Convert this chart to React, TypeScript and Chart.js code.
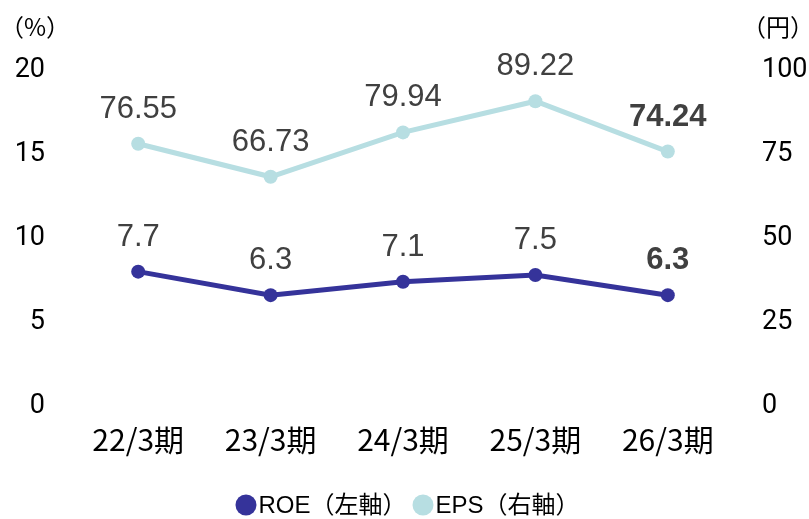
import React, { useEffect, useRef } from 'react';
import { Chart, registerables } from 'chart.js';

Chart.register(...registerables);

const categories = ['22/3期', '23/3期', '24/3期', '25/3期', '26/3期'];
const roeValues = [7.7, 6.3, 7.1, 7.5, 6.3];
const epsValues = [76.55, 66.73, 79.94, 89.22, 74.24];
const roeTicks = [0, 5, 10, 15, 20];
const epsTicks = [0, 25, 50, 75, 100];
const roeLabel = 'ROE（左軸）';
const epsLabel = 'EPS（右軸）';
const leftTitle = '（%）';
const rightTitle = '（円）';

const ROE_COLOR = '#35339a';
const EPS_COLOR = '#b7dee2';
const LABEL_COLOR = '#404040';
const NUM_FONT = "'Liberation Sans', Arial, 'Noto Sans CJK JP', sans-serif";
const CJK_FONT = "'Noto Sans CJK JP', sans-serif";

const decimals = [1, 2];

const overlayPlugin = {
  id: 'overlay',
  afterDatasetsDraw(chart: any) {
    const ctx = chart.ctx;
    ctx.save();
    // data labels
    chart.data.datasets.forEach((ds: any, di: number) => {
      const meta = chart.getDatasetMeta(di);
      meta.data.forEach((pt: any, i: number) => {
        const last = i === meta.data.length - 1;
        ctx.font = `${last ? 'bold ' : ''}31px ${NUM_FONT}`;
        ctx.fillStyle = LABEL_COLOR;
        ctx.textAlign = 'center';
        ctx.textBaseline = 'alphabetic';
        ctx.fillText(Number(ds.data[i]).toFixed(decimals[di]), pt.x, pt.y - 26);
      });
    });
    // axis titles
    ctx.font = `24px ${CJK_FONT}`;
    ctx.fillStyle = '#000';
    ctx.textAlign = 'center';
    ctx.textBaseline = 'middle';
    ctx.fillText(leftTitle, 35, 27);
    ctx.fillText(rightTitle, 778, 27);
    // legend
    ctx.font = `24px ${NUM_FONT}`;
    const r = 10.5;
    const gapText = 2;
    const gapItem = 6;
    const items = chart.data.datasets.map((ds: any) => ({
      label: ds.label,
      color: ds.borderColor,
      w: r * 2 + gapText + ctx.measureText(ds.label).width,
    }));
    const total = items.reduce((s: number, it: any) => s + it.w, 0) + gapItem * (items.length - 1);
    let x = chart.width / 2 + 3 - total / 2;
    const y = 505;
    items.forEach((it: any) => {
      ctx.beginPath();
      ctx.fillStyle = it.color;
      ctx.arc(x + r, y, r, 0, Math.PI * 2);
      ctx.fill();
      ctx.fillStyle = '#000';
      ctx.textAlign = 'left';
      ctx.textBaseline = 'middle';
      ctx.fillText(it.label, x + r * 2 + gapText, y + 1);
      x += it.w + gapItem;
    });
    ctx.restore();
  },
};

export default function App() {
  const ref = useRef<HTMLCanvasElement>(null);
  useEffect(() => {
    if (!ref.current) return;
    const chart = new Chart(ref.current, {
      type: 'line',
      data: {
        labels: categories,
        datasets: [
          {
            label: roeLabel,
            data: roeValues,
            yAxisID: 'y',
            borderColor: ROE_COLOR,
            backgroundColor: ROE_COLOR,
            borderWidth: 5,
            pointRadius: 7,
            pointBorderWidth: 0,
            pointBackgroundColor: ROE_COLOR,
            tension: 0,
          },
          {
            label: epsLabel,
            data: epsValues,
            yAxisID: 'y1',
            borderColor: EPS_COLOR,
            backgroundColor: EPS_COLOR,
            borderWidth: 5,
            pointRadius: 7,
            pointBorderWidth: 0,
            pointBackgroundColor: EPS_COLOR,
            tension: 0,
          },
        ],
      },
      options: {
        responsive: false,
        animation: false,
        layout: { padding: { top: 65, bottom: 38, left: 0, right: 0 } },
        plugins: { legend: { display: false }, tooltip: { enabled: false } },
        scales: {
          x: {
            offset: true,
            grid: { display: false, drawTicks: false },
            border: { display: false },
            ticks: {
              padding: 21,
              color: '#000',
              font: { family: CJK_FONT, size: 30 },
              maxRotation: 0,
              autoSkip: false,
            },
            afterFit: (s: any) => { s.height = 80; },
          },
          y: {
            position: 'left',
            min: roeTicks[0],
            max: roeTicks[roeTicks.length - 1],
            grid: { display: false, drawTicks: false },
            border: { display: false },
            ticks: {
              stepSize: roeTicks[1] - roeTicks[0],
              padding: 27,
              labelOffset: 5,
              color: '#000',
              font: { family: "Roboto, 'Liberation Sans', sans-serif", size: 27 },
            },
            afterFit: (s: any) => { s.width = 72; },
          },
          y1: {
            position: 'right',
            min: epsTicks[0],
            max: epsTicks[epsTicks.length - 1],
            grid: { display: false, drawTicks: false },
            border: { display: false },
            ticks: {
              stepSize: epsTicks[1] - epsTicks[0],
              padding: 28,
              labelOffset: 5,
              color: '#000',
              font: { family: "Roboto, 'Liberation Sans', sans-serif", size: 27 },
            },
            afterFit: (s: any) => { s.width = 75; },
          },
        },
      },
      plugins: [overlayPlugin],
    });
    return () => chart.destroy();
  }, []);
  return (
    <div style={{ position: 'fixed', left: 0, top: 0, width: 809, height: 519, background: '#fff' }}>
      <canvas ref={ref} width={809} height={519} style={{ width: 809, height: 519, display: 'block' }} />
    </div>
  );
}
